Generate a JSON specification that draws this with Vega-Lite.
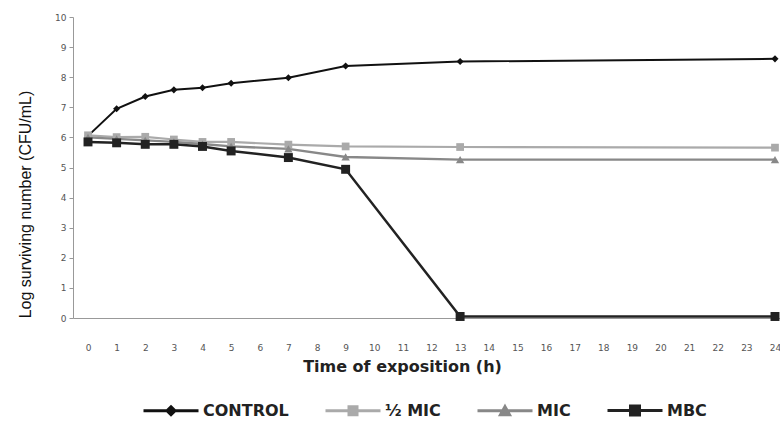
{
  "$schema": "https://vega.github.io/schema/vega-lite/v6.json",
  "autosize": {"type": "none"},
  "padding": {"left": 73, "top": 17, "right": 0, "bottom": 103},
  "width": 707,
  "height": 301,
  "background": "white",
  "config": {"view": {"stroke": null}},
  "data": {
    "values": [
      {"t": 0, "s": "CONTROL", "v": 6.05},
      {"t": 1, "s": "CONTROL", "v": 6.95},
      {"t": 2, "s": "CONTROL", "v": 7.36},
      {"t": 3, "s": "CONTROL", "v": 7.58},
      {"t": 4, "s": "CONTROL", "v": 7.65},
      {"t": 5, "s": "CONTROL", "v": 7.8},
      {"t": 7, "s": "CONTROL", "v": 7.98},
      {"t": 9, "s": "CONTROL", "v": 8.37},
      {"t": 13, "s": "CONTROL", "v": 8.52},
      {"t": 24, "s": "CONTROL", "v": 8.61},
      {"t": 0, "s": "½ MIC", "v": 6.07},
      {"t": 1, "s": "½ MIC", "v": 6.01},
      {"t": 2, "s": "½ MIC", "v": 6.02},
      {"t": 3, "s": "½ MIC", "v": 5.93},
      {"t": 4, "s": "½ MIC", "v": 5.85},
      {"t": 5, "s": "½ MIC", "v": 5.85},
      {"t": 7, "s": "½ MIC", "v": 5.76},
      {"t": 9, "s": "½ MIC", "v": 5.7},
      {"t": 13, "s": "½ MIC", "v": 5.68},
      {"t": 24, "s": "½ MIC", "v": 5.66},
      {"t": 0, "s": "MIC", "v": 6.0},
      {"t": 1, "s": "MIC", "v": 5.95},
      {"t": 2, "s": "MIC", "v": 5.9},
      {"t": 3, "s": "MIC", "v": 5.85},
      {"t": 4, "s": "MIC", "v": 5.78},
      {"t": 5, "s": "MIC", "v": 5.7},
      {"t": 7, "s": "MIC", "v": 5.62},
      {"t": 9, "s": "MIC", "v": 5.35},
      {"t": 13, "s": "MIC", "v": 5.26},
      {"t": 24, "s": "MIC", "v": 5.26},
      {"t": 0, "s": "MBC", "v": 5.85},
      {"t": 1, "s": "MBC", "v": 5.82},
      {"t": 2, "s": "MBC", "v": 5.77},
      {"t": 3, "s": "MBC", "v": 5.77},
      {"t": 4, "s": "MBC", "v": 5.7},
      {"t": 5, "s": "MBC", "v": 5.55},
      {"t": 7, "s": "MBC", "v": 5.33},
      {"t": 9, "s": "MBC", "v": 4.94},
      {"t": 13, "s": "MBC", "v": 0.05},
      {"t": 24, "s": "MBC", "v": 0.05}
    ]
  },
  "encoding": {
    "x": {
      "field": "t", "type": "quantitative",
      "scale": {"domain": [-0.524, 24.175], "nice": false, "zero": false},
      "axis": {
        "values": [0,1,2,3,4,5,6,7,8,9,10,11,12,13,14,15,16,17,18,19,20,21,22,23,24],
        "title": "Time of exposition (h)",
        "titleFont": "DejaVu Sans", "titleFontSize": 16, "titleFontWeight": "bold", "titleColor": "#222",
        "titleX": 329, "titleY": 48, "titleBaseline": "middle", "titleAlign": "center",
        "labelFont": "DejaVu Sans", "labelFontSize": 9, "labelColor": "#555",
        "ticks": false, "tickSize": 0, "labelPadding": 25,
        "grid": false, "domainColor": "#999", "domainWidth": 1, "labelFlush": false
      }
    },
    "y": {
      "field": "v", "type": "quantitative",
      "scale": {"domain": [0, 10], "nice": false},
      "axis": {
        "values": [0,1,2,3,4,5,6,7,8,9,10],
        "title": "Log surviving number (CFU/mL)",
        "titleFont": "Liberation Sans", "titleFontSize": 16, "titleFontWeight": "normal", "titleColor": "#111",
        "titleAngle": -90, "titleX": -48, "titleY": 187, "titleBaseline": "middle", "titleAlign": "center",
        "labelFont": "DejaVu Sans", "labelFontSize": 9, "labelColor": "#555",
        "tickSize": 4, "tickColor": "#999", "labelPadding": 3,
        "grid": false, "domainColor": "#999", "domainWidth": 1, "labelFlush": false
      }
    }
  },
  "layer": [
    {
      "mark": {"type": "line", "interpolate": "linear"},
      "encoding": {
        "strokeWidth": {
          "field": "s", "type": "nominal",
          "scale": {"domain": ["CONTROL", "½ MIC", "MIC", "MBC"], "range": [2, 2.5, 2, 2.5]},
          "legend": null
        },
        "color": {
          "field": "s", "type": "nominal",
          "scale": {"domain": ["CONTROL", "½ MIC", "MIC", "MBC"], "range": ["#111111", "#aaaaaa", "#888888", "#222222"]},
          "legend": {
            "title": null,
            "orient": "none", "direction": "horizontal",
            "legendX": 69, "legendY": 382,
            "symbolSize": 400, "symbolType": "M-1,0H4.5", "labelOffset": 38, "columnPadding": 30,
            "labelFont": "DejaVu Sans", "labelFontSize": 16, "labelFontWeight": "bold", "labelColor": "#222",
            "labelBaseline": "middle", "labelLimit": 300,
            "encode": {
              "symbols": {
                "update": {
                  "shape": {"signal": "datum.value === 'CONTROL' ? 'M-1,0H4.5M1.75,-0.4L2.15,0L1.75,0.4L1.35,0Z' : datum.value === '½ MIC' ? 'M-1,0H4.5M1.35,-0.4H2.15V0.4H1.35Z' : datum.value === 'MIC' ? 'M-1,0H4.5M1.75,-0.42L2.2,0.38H1.3Z' : 'M-1,0H4.5M1.3,-0.45H2.2V0.45H1.3Z'"},
                  "fill": {"signal": "datum.value === 'CONTROL' ? '#111111' : datum.value === '½ MIC' ? '#aaaaaa' : datum.value === 'MIC' ? '#888888' : '#222222'"},
                  "stroke": {"signal": "datum.value === 'CONTROL' ? '#111111' : datum.value === '½ MIC' ? '#aaaaaa' : datum.value === 'MIC' ? '#888888' : '#222222'"},
                  "strokeWidth": {"value": 3},
                  "opacity": {"value": 1},
                  "fillOpacity": {"value": 1},
                  "strokeOpacity": {"value": 1},
                  "size": {"value": 400}
                }
              }
            }
          }
        }
      }
    },
    {
      "mark": {"type": "point", "filled": true, "opacity": 1},
      "encoding": {
        "color": {
          "field": "s", "type": "nominal",
          "scale": {"domain": ["CONTROL", "½ MIC", "MIC", "MBC"], "range": ["#111111", "#aaaaaa", "#888888", "#222222"]},
          "legend": null
        },
        "shape": {
          "field": "s", "type": "nominal",
          "scale": {"domain": ["CONTROL", "½ MIC", "MIC", "MBC"], "range": ["diamond", "square", "triangle-up", "square"]},
          "legend": null
        },
        "size": {
          "field": "s", "type": "nominal",
          "scale": {"domain": ["CONTROL", "½ MIC", "MIC", "MBC"], "range": [50, 80, 70, 130]},
          "legend": null
        }
      }
    }
  ],
  "resolve": {"scale": {"color": "independent"}}
}
